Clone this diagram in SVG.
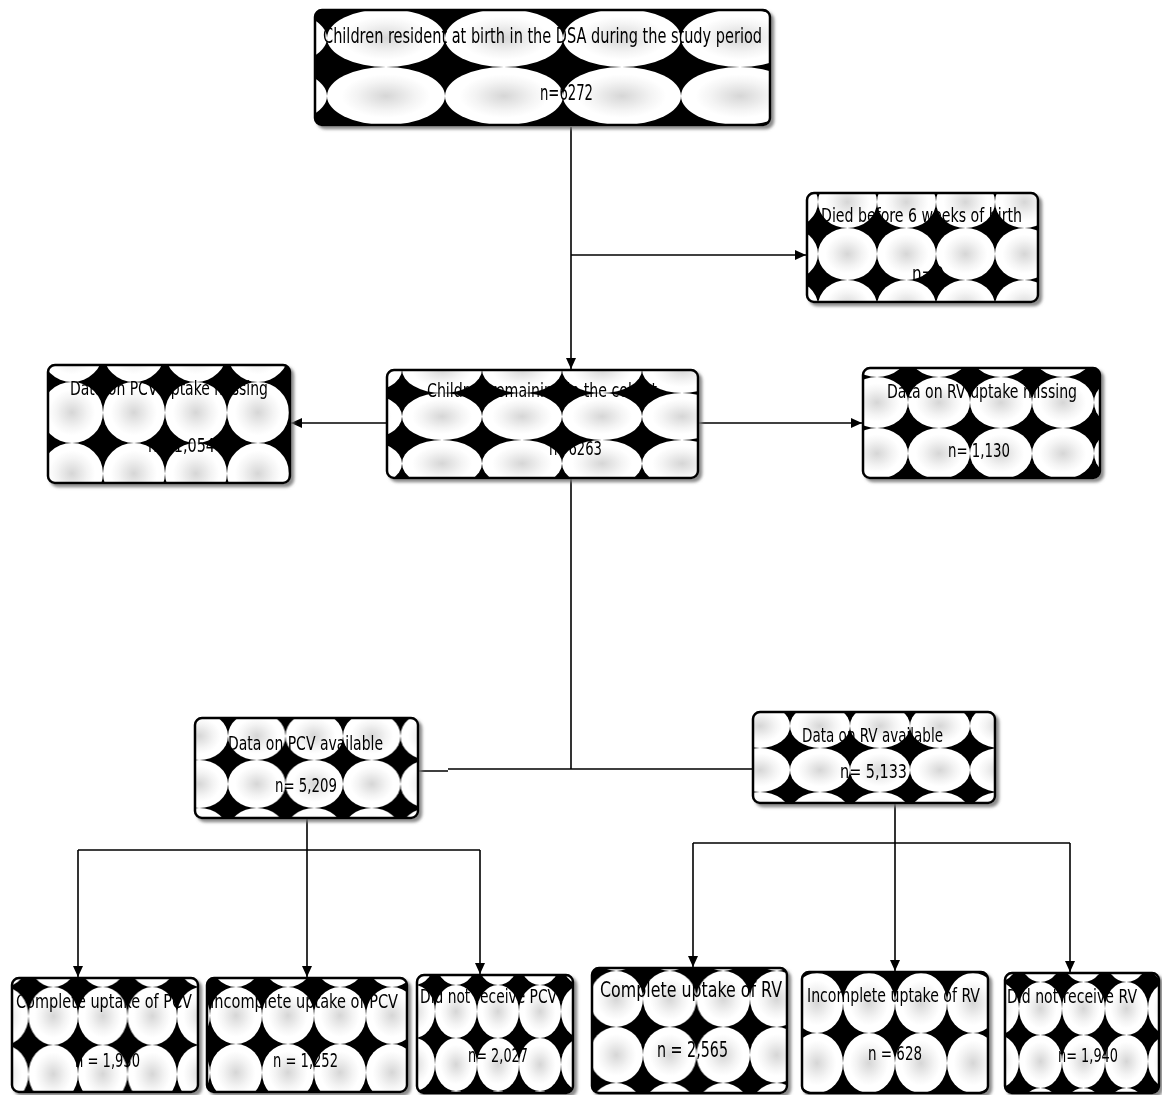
<svg xmlns="http://www.w3.org/2000/svg" width="1162" height="1095" viewBox="0 0 1162 1095">
  <style>
    .box { stroke: #000; stroke-width: 2.5; }
    .t { font-family: "Liberation Sans Narrow", "DejaVu Sans Condensed", "Liberation Sans", sans-serif; font-size: 20px; fill: #000; }
    .big { font-size: 22px; }
    .wire { fill: none; stroke: #000; stroke-width: 1.6; }
  </style>
  <defs>
    <radialGradient id="glow" cx="50%" cy="50%" r="50%">
      <stop offset="0" stop-color="#d6d6d6"/>
      <stop offset="0.5" stop-color="#f4f4f4"/>
      <stop offset="0.75" stop-color="#fff"/>
    </radialGradient>
    <filter id="shadow" x="-5%" y="-5%" width="115%" height="120%">
      <feGaussianBlur in="SourceAlpha" stdDeviation="1.6"/>
      <feOffset dx="3" dy="3" result="o"/>
      <feFlood flood-color="#777" flood-opacity="0.85"/>
      <feComposite in2="o" operator="in"/>
      <feMerge><feMergeNode/><feMergeNode in="SourceGraphic"/></feMerge>
    </filter>
    <marker id="arrow" markerUnits="userSpaceOnUse" markerWidth="11" markerHeight="10" refX="11" refY="5" orient="auto">
      <path d="M0,0 L11,5 L0,10 z" fill="#000"/>
    </marker>
    <!-- ellipse tilings, one per box -->
    <pattern id="pA" patternUnits="userSpaceOnUse" x="327" y="9" width="118" height="58">
      <rect width="118" height="58" fill="#000"/><ellipse cx="59" cy="29" rx="59" ry="29" fill="url(#glow)"/>
    </pattern>
    <pattern id="pB" patternUnits="userSpaceOnUse" x="818" y="228" width="59" height="52">
      <rect width="59" height="52" fill="#000"/><ellipse cx="29.5" cy="26" rx="29.5" ry="26" fill="url(#glow)"/>
    </pattern>
    <pattern id="pC" patternUnits="userSpaceOnUse" x="41" y="382" width="62" height="61">
      <rect width="62" height="61" fill="#000"/><ellipse cx="31" cy="30.5" rx="31" ry="30.5" fill="url(#glow)"/>
    </pattern>
    <pattern id="pD" patternUnits="userSpaceOnUse" x="402" y="393" width="80" height="47">
      <rect width="80" height="47" fill="#000"/><ellipse cx="40" cy="23.5" rx="40" ry="23.5" fill="url(#glow)"/>
    </pattern>
    <pattern id="pE" patternUnits="userSpaceOnUse" x="908" y="377" width="62" height="51">
      <rect width="62" height="51" fill="#000"/><ellipse cx="31" cy="25.5" rx="31" ry="25.5" fill="url(#glow)"/>
    </pattern>
    <pattern id="pF" patternUnits="userSpaceOnUse" x="228" y="760" width="57.5" height="48">
      <rect width="57.5" height="48" fill="#000"/><ellipse cx="28.75" cy="24" rx="28.75" ry="24" fill="url(#glow)"/>
    </pattern>
    <pattern id="pG" patternUnits="userSpaceOnUse" x="790" y="748" width="60" height="44">
      <rect width="60" height="44" fill="#000"/><ellipse cx="30" cy="22" rx="30" ry="22" fill="url(#glow)"/>
    </pattern>
    <pattern id="pH" patternUnits="userSpaceOnUse" x="28.5" y="987" width="49.5" height="58">
      <rect width="49.5" height="58" fill="#000"/><ellipse cx="24.75" cy="29" rx="24.75" ry="29" fill="url(#glow)"/>
    </pattern>
    <pattern id="pI" patternUnits="userSpaceOnUse" x="210" y="987" width="52" height="57">
      <rect width="52" height="57" fill="#000"/><ellipse cx="26" cy="28.5" rx="26" ry="28.5" fill="url(#glow)"/>
    </pattern>
    <pattern id="pJ" patternUnits="userSpaceOnUse" x="435" y="985" width="42" height="53">
      <rect width="42" height="53" fill="#000"/><ellipse cx="21" cy="26.5" rx="21" ry="26.5" fill="url(#glow)"/>
    </pattern>
    <pattern id="pK" patternUnits="userSpaceOnUse" x="643" y="971" width="53.5" height="56">
      <rect width="53.5" height="56" fill="#000"/><ellipse cx="26.75" cy="28" rx="26.75" ry="28" fill="url(#glow)"/>
    </pattern>
    <pattern id="pL" patternUnits="userSpaceOnUse" x="843" y="973" width="52" height="60">
      <rect width="52" height="60" fill="#000"/><ellipse cx="26" cy="30" rx="26" ry="30" fill="url(#glow)"/>
    </pattern>
    <pattern id="pM" patternUnits="userSpaceOnUse" x="1062" y="982" width="43" height="53">
      <rect width="43" height="53" fill="#000"/><ellipse cx="21.5" cy="26.5" rx="21.5" ry="26.5" fill="url(#glow)"/>
    </pattern>
  </defs>

  <rect width="1162" height="1095" fill="#fff"/>

  <g id="connectors">
    <path class="wire" d="M571,127 V369" marker-end="url(#arrow)"/>
    <path class="wire" d="M571,255 H806" marker-end="url(#arrow)"/>
    <path class="wire" d="M387,423 H291" marker-end="url(#arrow)"/>
    <path class="wire" d="M698,423 H862" marker-end="url(#arrow)"/>
    <path class="wire" d="M571,478 V769"/>
    <path class="wire" d="M418,771 H448 M448,769 H753"/>
    <path class="wire" d="M307,818 V850 M78,850 H480"/>
    <path class="wire" d="M78,850 V977" marker-end="url(#arrow)"/>
    <path class="wire" d="M307,850 V977" marker-end="url(#arrow)"/>
    <path class="wire" d="M480,850 V974" marker-end="url(#arrow)"/>
    <path class="wire" d="M895,803 V843 M693,843 H1070"/>
    <path class="wire" d="M693,843 V967" marker-end="url(#arrow)"/>
    <path class="wire" d="M895,843 V971" marker-end="url(#arrow)"/>
    <path class="wire" d="M1070,843 V972" marker-end="url(#arrow)"/>
  </g>

  <g id="birth-cohort" filter="url(#shadow)">
    <rect class="box" x="315" y="10" width="455" height="115" rx="7" fill="url(#pA)"/>
    <text class="t big" x="323" y="43" textLength="439" lengthAdjust="spacingAndGlyphs">Children resident at birth in the DSA during the study period</text>
    <text class="t big" x="540" y="100" textLength="53" lengthAdjust="spacingAndGlyphs">n=6272</text>
  </g>

  <g id="died" filter="url(#shadow)">
    <rect class="box" x="807" y="193" width="231" height="109" rx="7" fill="url(#pB)"/>
    <text class="t" x="821" y="222" textLength="201" lengthAdjust="spacingAndGlyphs">Died before 6 weeks of birth</text>
    <text class="t" x="912" y="280" textLength="32" lengthAdjust="spacingAndGlyphs">n=9</text>
  </g>

  <g id="pcv-missing" filter="url(#shadow)">
    <rect class="box" x="48" y="365" width="242" height="118" rx="7" fill="url(#pC)"/>
    <text class="t" x="70" y="395" textLength="198" lengthAdjust="spacingAndGlyphs">Data on PCV uptake missing</text>
    <text class="t" x="148" y="452" textLength="67" lengthAdjust="spacingAndGlyphs">n= 1,054</text>
  </g>

  <g id="remaining" filter="url(#shadow)">
    <rect class="box" x="387" y="370" width="311" height="108" rx="7" fill="url(#pD)"/>
    <text class="t" x="427" y="397" textLength="230" lengthAdjust="spacingAndGlyphs">Children remaining in the cohort</text>
    <text class="t" x="549" y="455" textLength="53" lengthAdjust="spacingAndGlyphs">n=6263</text>
  </g>

  <g id="rv-missing" filter="url(#shadow)">
    <rect class="box" x="863" y="368" width="237" height="110" rx="7" fill="url(#pE)"/>
    <text class="t" x="887" y="398" textLength="190" lengthAdjust="spacingAndGlyphs">Data on RV uptake missing</text>
    <text class="t" x="948" y="457" textLength="62" lengthAdjust="spacingAndGlyphs">n= 1,130</text>
  </g>

  <g id="pcv-available" filter="url(#shadow)">
    <rect class="box" x="195" y="718" width="223" height="100" rx="7" fill="url(#pF)"/>
    <text class="t" x="228" y="750" textLength="155" lengthAdjust="spacingAndGlyphs">Data on PCV available</text>
    <text class="t" x="275" y="792" textLength="62" lengthAdjust="spacingAndGlyphs">n= 5,209</text>
  </g>

  <g id="rv-available" filter="url(#shadow)">
    <rect class="box" x="753" y="712" width="242" height="91" rx="7" fill="url(#pG)"/>
    <text class="t" x="802" y="742" textLength="141" lengthAdjust="spacingAndGlyphs">Data on RV available</text>
    <text class="t" x="840" y="778" textLength="67" lengthAdjust="spacingAndGlyphs">n= 5,133</text>
  </g>

  <g id="pcv-complete" filter="url(#shadow)">
    <rect class="box" x="12" y="978" width="186" height="114" rx="7" fill="url(#pH)"/>
    <text class="t" x="16" y="1008" textLength="176" lengthAdjust="spacingAndGlyphs">Complete uptake of PCV</text>
    <text class="t" x="75" y="1067" textLength="65" lengthAdjust="spacingAndGlyphs">n = 1,930</text>
  </g>

  <g id="pcv-incomplete" filter="url(#shadow)">
    <rect class="box" x="207" y="978" width="200" height="114" rx="7" fill="url(#pI)"/>
    <text class="t" x="210" y="1008" textLength="188" lengthAdjust="spacingAndGlyphs">Incomplete uptake of PCV</text>
    <text class="t" x="273" y="1067" textLength="65" lengthAdjust="spacingAndGlyphs">n = 1,252</text>
  </g>

  <g id="pcv-none" filter="url(#shadow)">
    <rect class="box" x="417" y="975" width="156" height="118" rx="7" fill="url(#pJ)"/>
    <text class="t" x="420" y="1003" textLength="137" lengthAdjust="spacingAndGlyphs">Did not receive PCV</text>
    <text class="t" x="468" y="1062" textLength="60" lengthAdjust="spacingAndGlyphs">n= 2,027</text>
  </g>

  <g id="rv-complete" filter="url(#shadow)">
    <rect class="box" x="592" y="968" width="195" height="125" rx="7" fill="url(#pK)" stroke-width="3.5"/>
    <text class="t big" x="600" y="997" textLength="182" lengthAdjust="spacingAndGlyphs">Complete uptake of RV</text>
    <text class="t big" x="657" y="1057" textLength="71" lengthAdjust="spacingAndGlyphs">n = 2,565</text>
  </g>

  <g id="rv-incomplete" filter="url(#shadow)">
    <rect class="box" x="802" y="972" width="186" height="121" rx="7" fill="url(#pL)"/>
    <text class="t" x="807" y="1002" textLength="173" lengthAdjust="spacingAndGlyphs">Incomplete uptake of RV</text>
    <text class="t" x="868" y="1060" textLength="54" lengthAdjust="spacingAndGlyphs">n = 628</text>
  </g>

  <g id="rv-none" filter="url(#shadow)">
    <rect class="box" x="1005" y="973" width="154" height="120" rx="7" fill="url(#pM)"/>
    <text class="t" x="1007" y="1003" textLength="130" lengthAdjust="spacingAndGlyphs">Did not receive RV</text>
    <text class="t" x="1058" y="1062" textLength="60" lengthAdjust="spacingAndGlyphs">n= 1,940</text>
  </g>
</svg>
